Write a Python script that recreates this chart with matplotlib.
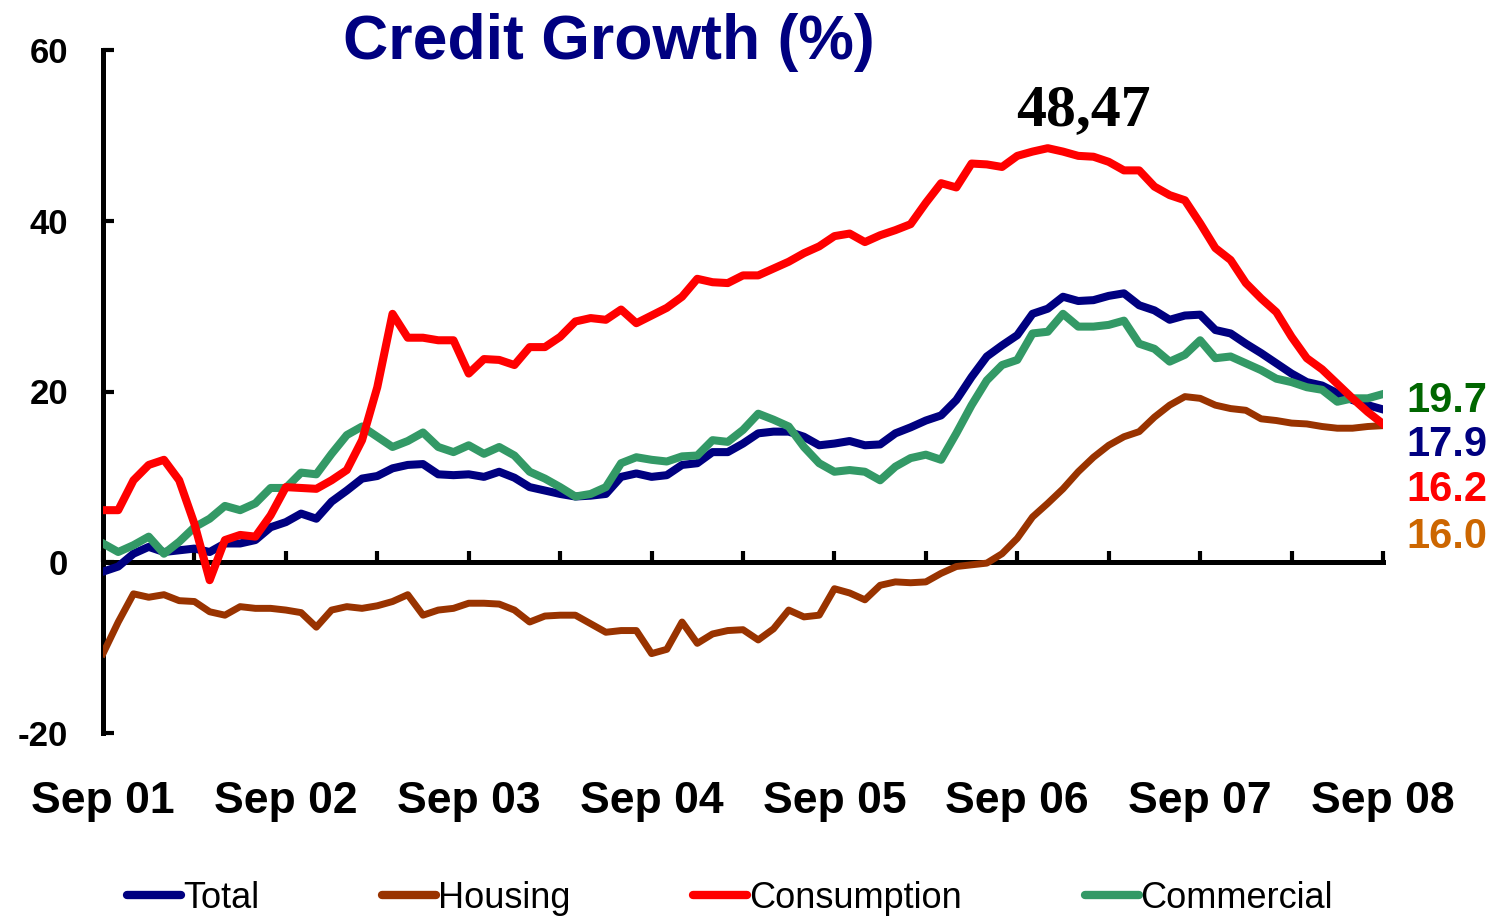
import matplotlib
matplotlib.use("Agg")
import matplotlib.pyplot as plt

# ---------------- data ----------------
year_labels = ["Sep 01", "Sep 02", "Sep 03", "Sep 04", "Sep 05", "Sep 06", "Sep 07", "Sep 08"]

total = [-1.1, -0.5, 1.0, 1.8, 1.2, 1.4, 1.6, 1.2, 2.2, 2.2, 2.6, 4.1, 4.7, 5.7, 5.1, 7.1,
         8.4, 9.8, 10.1, 11.0, 11.4, 11.5, 10.3, 10.2, 10.3, 10.0, 10.6, 9.9, 8.8, 8.4, 8.0,
         7.7, 7.8, 8.0, 10.0, 10.4, 10.0, 10.2, 11.4, 11.6, 12.9, 12.9, 13.9, 15.1, 15.3, 15.3,
         14.7, 13.7, 13.9, 14.2, 13.7, 13.8, 15.1, 15.8, 16.6, 17.2, 19.0, 21.7, 24.1, 25.4,
         26.6, 29.1, 29.7, 31.1, 30.6, 30.7, 31.2, 31.5, 30.1, 29.5, 28.4, 28.9, 29.0, 27.2,
         26.8, 25.6, 24.5, 23.3, 22.1, 21.1, 20.7, 19.8, 19.0, 18.4, 17.9]

housing = [-10.7, -7.0, -3.7, -4.1, -3.8, -4.5, -4.6, -5.8, -6.2, -5.2, -5.4, -5.4, -5.6, -5.9,
           -7.6, -5.6, -5.2, -5.4, -5.1, -4.6, -3.8, -6.2, -5.6, -5.4, -4.8, -4.8, -4.9, -5.6,
           -7.0, -6.3, -6.2, -6.2, -7.2, -8.2, -8.0, -8.0, -10.7, -10.2, -7.0, -9.5, -8.4, -8.0,
           -7.9, -9.1, -7.8, -5.6, -6.4, -6.2, -3.1, -3.6, -4.4, -2.7, -2.3, -2.4, -2.3, -1.3,
           -0.5, -0.3, -0.1, 1.0, 2.8, 5.3, 6.9, 8.6, 10.6, 12.3, 13.7, 14.7, 15.3, 17.0, 18.4,
           19.4, 19.2, 18.4, 18.0, 17.8, 16.8, 16.6, 16.3, 16.2, 15.9, 15.7, 15.7, 15.9, 16.0]

consumption = [6.1, 6.1, 9.6, 11.4, 12.0, 9.6, 4.5, -2.1, 2.6, 3.2, 3.0, 5.5, 8.8, 8.7, 8.6,
               9.6, 10.8, 14.3, 20.5, 29.1, 26.3, 26.3, 26.0, 26.0, 22.1, 23.8, 23.7, 23.1, 25.2,
               25.2, 26.4, 28.2, 28.6, 28.4, 29.6, 28.0, 28.9, 29.8, 31.1, 33.2, 32.8, 32.7, 33.6,
               33.6, 34.4, 35.2, 36.2, 37.0, 38.2, 38.5, 37.5, 38.3, 38.9, 39.6, 42.1, 44.4, 43.9,
               46.7, 46.6, 46.3, 47.6, 48.1, 48.5, 48.1, 47.6, 47.5, 46.9, 45.9, 45.9, 44.0, 43.0,
               42.4, 39.7, 36.8, 35.4, 32.7, 30.9, 29.3, 26.4, 23.9, 22.6, 20.9, 19.2, 17.6, 16.2]

commercial = [2.2, 1.2, 2.0, 3.0, 1.0, 2.4, 4.1, 5.1, 6.6, 6.1, 6.9, 8.7, 8.7, 10.5, 10.3, 12.7,
              14.9, 15.9, 14.7, 13.5, 14.2, 15.2, 13.5, 12.9, 13.7, 12.7, 13.5, 12.5, 10.6, 9.8,
              8.8, 7.7, 8.0, 8.8, 11.6, 12.3, 12.0, 11.8, 12.4, 12.5, 14.3, 14.1, 15.5, 17.4, 16.7,
              15.9, 13.5, 11.6, 10.6, 10.8, 10.6, 9.6, 11.2, 12.2, 12.6, 12.0, 15.1, 18.4, 21.3,
              23.1, 23.7, 26.8, 27.0, 29.1, 27.6, 27.6, 27.8, 28.3, 25.6, 25.0, 23.5, 24.3, 26.0,
              23.9, 24.1, 23.3, 22.5, 21.5, 21.1, 20.5, 20.2, 18.8, 19.2, 19.2, 19.7]

peak_label = "48,47"
end_labels = ["19.7", "17.9", "16.2", "16.0"]
end_colors = ["#006600", "#000080", "#FF0000", "#CC6600"]
end_y_px = [401, 445, 490, 537]

months = list(range(len(total)))

# ---------------- figure ----------------
W, H = 1502, 919
fig = plt.figure(figsize=(W / 100, H / 100), dpi=100)
plt.rcParams['font.family'] = ['Liberation Sans', 'DejaVu Sans']

ax = fig.add_axes([103 / W, 1 - 733 / H, (1383 - 103) / W, (733 - 50) / H])
ax.set_xlim(0, 84)
ax.set_ylim(-20, 60)

c_total, c_housing, c_cons, c_comm = "#000080", "#993300", "#FF0000", "#339966"
l_total, = ax.plot(months, total, color=c_total, lw=5.8, label="Total", zorder=3)
l_housing, = ax.plot(months, housing, color=c_housing, lw=5.0, label="Housing", zorder=3)
l_comm, = ax.plot(months, commercial, color=c_comm, lw=5.8, label="Commercial", zorder=4)
l_cons, = ax.plot(months, consumption, color=c_cons, lw=5.8, label="Consumption", zorder=5)

# spines
for s in ["top", "right"]:
    ax.spines[s].set_visible(False)
ax.spines["bottom"].set_position(("data", 0))
ax.spines["bottom"].set_linewidth(3.6)
ax.spines["left"].set_linewidth(3.6)
ax.spines["bottom"].set_zorder(2)

ax.set_xticks(range(0, 85, 6))
ax.set_xticklabels([])
ax.tick_params(axis="x", direction="in", length=8, width=3, color="black")
ax.set_yticks([-20, 0, 20, 40, 60])
ax.set_yticklabels(["-20", "0", "20", "40", "60"], fontsize=25, fontweight="bold")
ax.tick_params(axis="y", direction="in", length=8, width=3, pad=25)

# year labels at the bottom
for i, lab in enumerate(year_labels):
    ax.text(i * 12, (733 - 801) / 683, lab, transform=ax.get_xaxis_transform(),
            ha="center", va="center", fontsize=32, fontweight="bold", clip_on=False)

# title
fig.text(609 / W, 1 - 42 / H, "Credit Growth (%)", ha="center", va="center",
         fontsize=45, fontweight="bold", color="#000080")

# peak annotation
fig.text(1083 / W, 1 - 111 / H, peak_label, ha="center", va="center",
         fontsize=43, fontweight="bold", family=["Liberation Serif", "DejaVu Serif"])

# end labels
for lab, col, ypx in zip(end_labels, end_colors, end_y_px):
    fig.text(1406 / W, 1 - ypx / H, lab, ha="left", va="center",
             fontsize=30, fontweight="bold", color=col)

# legend
leg = fig.legend([l_total, l_housing, l_cons, l_comm],
                 ["Total", "Housing", "Consumption", "Commercial"],
                 loc="center", bbox_to_anchor=(730 / W, 1 - 898 / H), ncol=4,
                 frameon=False, fontsize=26, handlelength=1.5, handletextpad=0.05,
                 columnspacing=3.4, borderpad=0)
for h in leg.legend_handles:
    h.set_linewidth(6)
    h.set_solid_capstyle("round")

fig.savefig("out.png", dpi=100)
